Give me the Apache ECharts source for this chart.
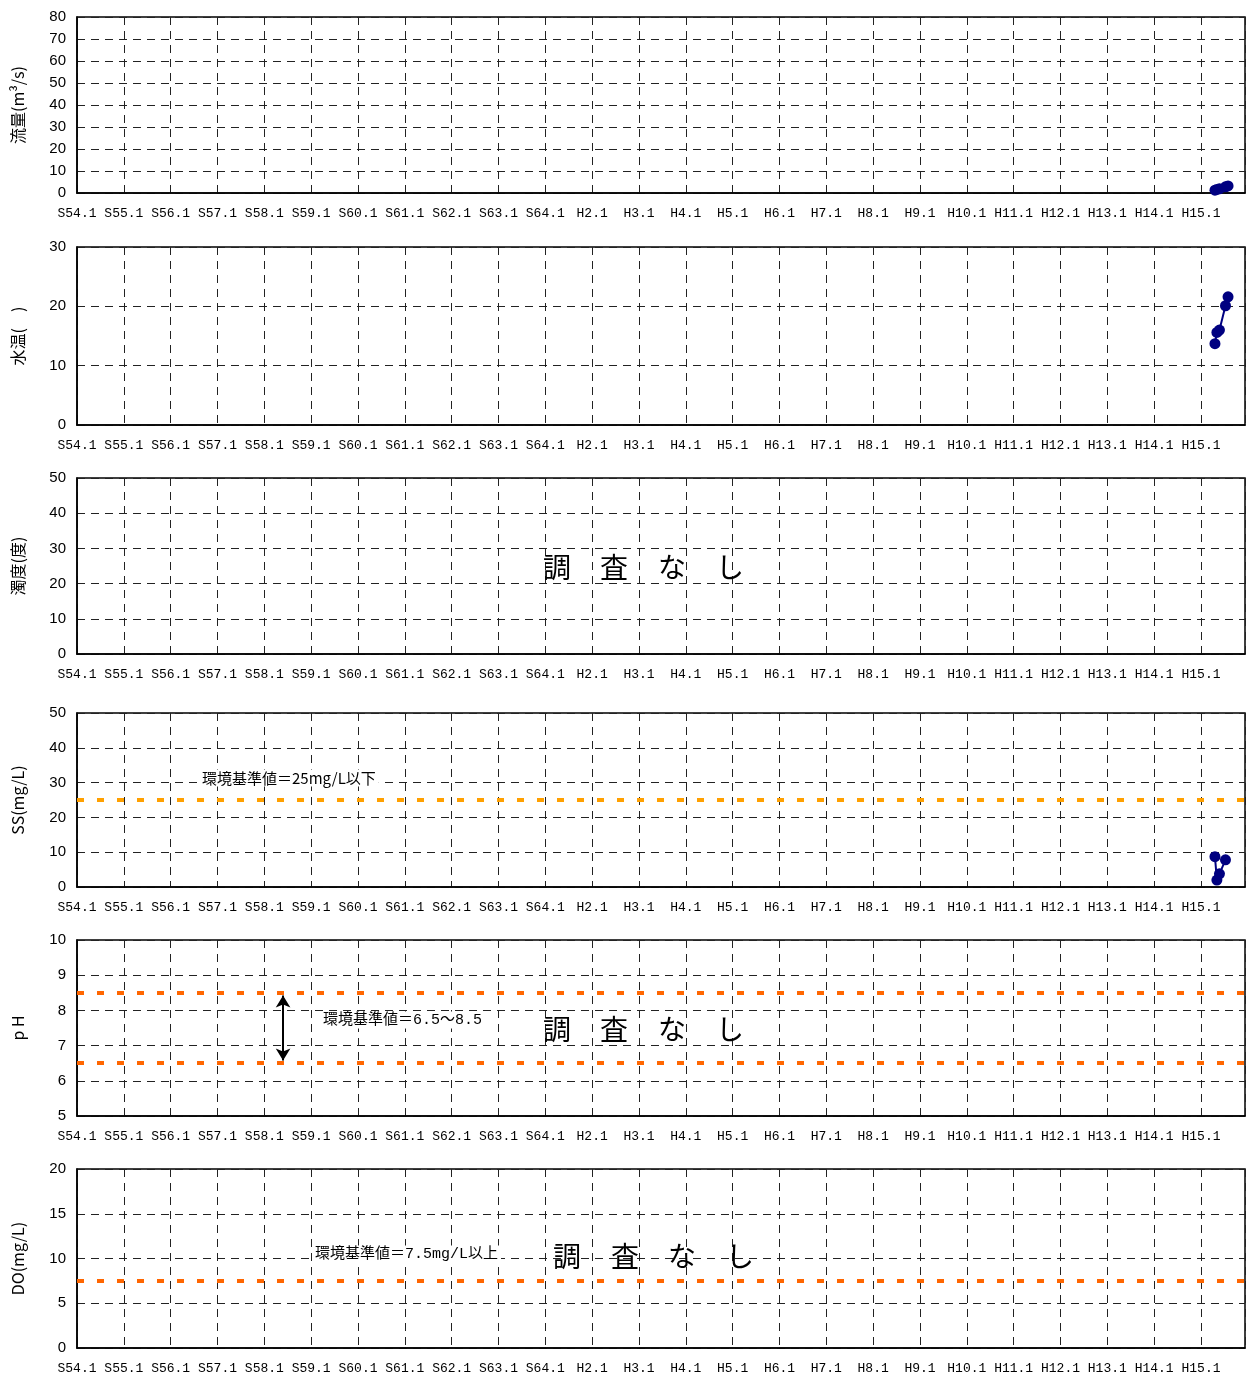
<!DOCTYPE html>
<html><head><meta charset="utf-8">
<script src="https://cdn.jsdelivr.net/npm/echarts@6/dist/echarts.min.js"></script>
<style>html,body{margin:0;padding:0;background:#fff}#c{width:1247px;height:1376px}</style>
</head><body><div id="c"></div>
<script>
// ---- data ----
const xLabels = ['S54.1','S55.1','S56.1','S57.1','S58.1','S59.1','S60.1','S61.1','S62.1','S63.1','S64.1',
  'H2.1','H3.1','H4.1','H5.1','H6.1','H7.1','H8.1','H9.1','H10.1','H11.1','H12.1','H13.1','H14.1','H15.1'];
const startYear = 1979, endYear = 2003.94;
const sampleDates = ['2003-04-20','2003-05-05','2003-05-25','2003-07-11','2003-07-31'];
const flow = [1.3, 1.6, 1.9, 2.8, 3.2];
const waterTemp = [13.7, 15.6, 16.0, 20.1, 21.6];
const ss = [8.7, 2.0, 3.8, 7.8, null];
const ssStandard = 25;
const phStandard = [6.5, 8.5];
const doStandard = 7.5;
const axisNames = ['流量(m³/s)','水温(　)','濁度(度)','SS(mg/L)','p H','DO(mg/L)'];
const yRanges = [[0,80,10],[0,30,10],[0,50,10],[0,50,10],[5,10,1],[0,20,5]];
const noSurvey = ['調','査','な','し'];

// ---- helpers ----
function toYear(s){
  const d = new Date(s + 'T00:00:00Z');
  const y = d.getUTCFullYear();
  const a = Date.UTC(y,0,1), b = Date.UTC(y+1,0,1);
  return y + (d.getTime()-a)/(b-a);
}
const xs = sampleDates.map(toYear);
const pairs = arr => arr.map((v,i)=> v==null ? null : [xs[i], v]).filter(p=>p);

const grids = [
  {top:17, height:176},{top:247, height:178},{top:478, height:176},
  {top:713, height:174},{top:940, height:176},{top:1169, height:179}
];
const FONT_NUM = 'Liberation Sans';
const FONT_CJK = 'Noto Sans CJK JP';
const gridLine = {show:true, lineStyle:{color:'#222', type:[8,6], width:1}};
const dotSeries = {symbol:'circle', symbolSize:11,
  itemStyle:{color:'#000080'}, lineStyle:{color:'#000080', width:2}};

const option = {
  animation:false,
  backgroundColor:'#fff',
  grid: grids.map(g=>({left:77, right:2, top:g.top, height:g.height, show:true, borderColor:'#000', borderWidth:1.5, backgroundColor:'transparent'})),
  xAxis: grids.map((g,i)=>({
    type:'value', gridIndex:i, min:startYear, max:endYear, interval:1,
    axisLine:{show:true, lineStyle:{color:'#000', width:1.5}},
    axisTick:{show:false},
    splitLine:gridLine,
    axisLabel:{show:true, margin:14, color:'#000', fontFamily:'Liberation Mono', fontSize:13,
      showMaxLabel:false,
      formatter:v=> {const k = v - startYear; return Math.abs(k - Math.round(k)) < 1e-6 ? (xLabels[Math.round(k)] || '') : '';}}
  })),
  yAxis: grids.map((g,i)=>({
    type:'value', gridIndex:i, min:yRanges[i][0], max:yRanges[i][1], interval:yRanges[i][2],
    name:axisNames[i], nameLocation:'middle', nameRotate:90, nameGap:51,
    nameTextStyle:{color:'#000', fontSize:16, fontFamily:FONT_CJK},
    axisLine:{show:true, lineStyle:{color:'#000', width:1.5}},
    axisTick:{show:false},
    splitLine:gridLine,
    axisLabel:{color:'#000', fontSize:15, fontFamily:FONT_NUM, margin:11}
  })),
  series: [
    Object.assign({type:'line', xAxisIndex:0, yAxisIndex:0, data:pairs(flow)}, dotSeries),
    Object.assign({type:'line', xAxisIndex:1, yAxisIndex:1, data:pairs(waterTemp)}, dotSeries),
    {type:'line', xAxisIndex:2, yAxisIndex:2, data:[]},
    Object.assign({type:'line', xAxisIndex:3, yAxisIndex:3, data:pairs(ss),
      markLine:{silent:true, symbol:'none', label:{show:false},
        lineStyle:{color:'#FFA000', width:4, type:[7,13]}, data:[{yAxis:ssStandard}]}}, dotSeries),
    {type:'line', xAxisIndex:4, yAxisIndex:4, data:[],
      markLine:{silent:true, symbol:'none', label:{show:false},
        lineStyle:{color:'#FF6600', width:4, type:[7,13]},
        data: phStandard.map(v=>({yAxis:v}))}},
    {type:'line', xAxisIndex:4, yAxisIndex:4, data:[],
      markLine:{silent:true, symbol:['arrow','arrow'], symbolSize:[11,12], label:{show:false},
        lineStyle:{color:'#000', width:2, type:'solid'},
        data:[[{coord:[1983.4, 8.42]},{coord:[1983.4, 6.58]}]]}},
    {type:'line', xAxisIndex:5, yAxisIndex:5, data:[],
      markLine:{silent:true, symbol:'none', label:{show:false},
        lineStyle:{color:'#FF6600', width:4, type:[7,13]}, data:[{yAxis:doStandard}]}}
  ],
  graphic: []
};

function bigText(xsPix, y){
  return noSurvey.map((ch,k)=>({type:'text', x:xsPix[k], y:y, z:100,
    style:{text:ch, fill:'#000', font:'28px "'+FONT_CJK+'"', textAlign:'center', textVerticalAlign:'middle'}}));
}
function note(text, x, y, fam){
  return {type:'text', x:x, y:y, z:100,
    style:{text:text, fill:'#000', font:'15px ' + fam, textAlign:'left', textVerticalAlign:'middle',
      backgroundColor:'#fff', padding:[1,3]}};
}
const monoCjk = '"Liberation Mono", "'+FONT_CJK+'"';
const cjk = '"'+FONT_CJK+'"';
option.graphic = [].concat(
  bigText([557,614,672,730], 567),
  bigText([557,614,672,730], 1029),
  bigText([567,625,682,740], 1256),
  [note('環境基準値＝' + ssStandard + 'mg/L以下', 199, 778, cjk),
   note('環境基準値＝' + phStandard[0].toFixed(1) + '～' + phStandard[1].toFixed(1), 320, 1020, monoCjk),
   note('環境基準値＝' + doStandard.toFixed(1) + 'mg/L以上', 312, 1254, monoCjk)]
);

const chart = echarts.init(document.getElementById('c'), null, {renderer:'canvas'});
chart.setOption(option);
</script></body></html>
